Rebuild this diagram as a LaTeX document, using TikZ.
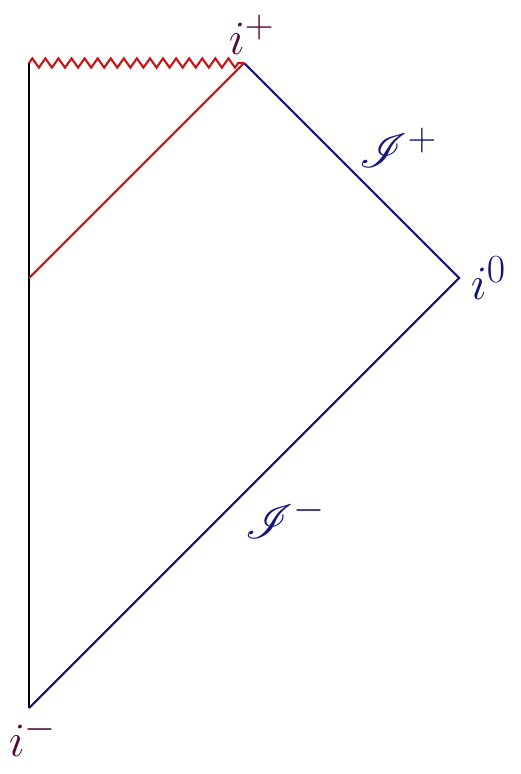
\documentclass[tikz,border=0pt]{standalone}
\usepackage{amsmath}
\usepackage{amssymb}
\usepackage{mathrsfs}
\usetikzlibrary{decorations.pathmorphing}
\definecolor{scri}{RGB}{20,20,120}
\definecolor{sing}{RGB}{200,20,20}
\definecolor{ptcol}{RGB}{80,10,60}

\begin{document}
\begin{tikzpicture}[x=3.93cm,y=3.93cm]
        \tikzstyle{edge} = [line width=1.1pt]
        \tikzstyle{lbl} = [inner sep=4pt,font=\Huge]
        \useasboundingbox (-0.135,-0.307) rectangle (2.284,3.293);
        \foreach \l/\x/\y in {im/0/0, iz/2/2, ip/1/3, tl/0/3, ev/0/2} {
          \coordinate (\l) at (\x,\y);
        }

        \draw[edge] (im) -- (tl);
        \draw[edge,scri] (im) -- (iz) -- (ip);
        \draw[edge,sing] (ev) -- (ip);
        \draw[edge,sing,decorate,
          decoration={zigzag,segment length=6.8pt,amplitude=2.4pt}] (tl) -- (ip);

        \node[lbl,ptcol,above,xshift=4pt] (lp) at (ip) {$i^+$};
        \node[lbl,scri,right,xshift=2pt] (lz) at (iz) {$i^0$};
        \node[lbl,ptcol,below,xshift=2pt] (lm) at (im) {$i^-$};
        \node[lbl,scri] (sp) at (1.719,2.605) {$\mathscr{I}^+$};
        \node[lbl,scri] (sm) at (1.191,0.884) {$\mathscr{I}^-$};
      \end{tikzpicture}
\end{document}
